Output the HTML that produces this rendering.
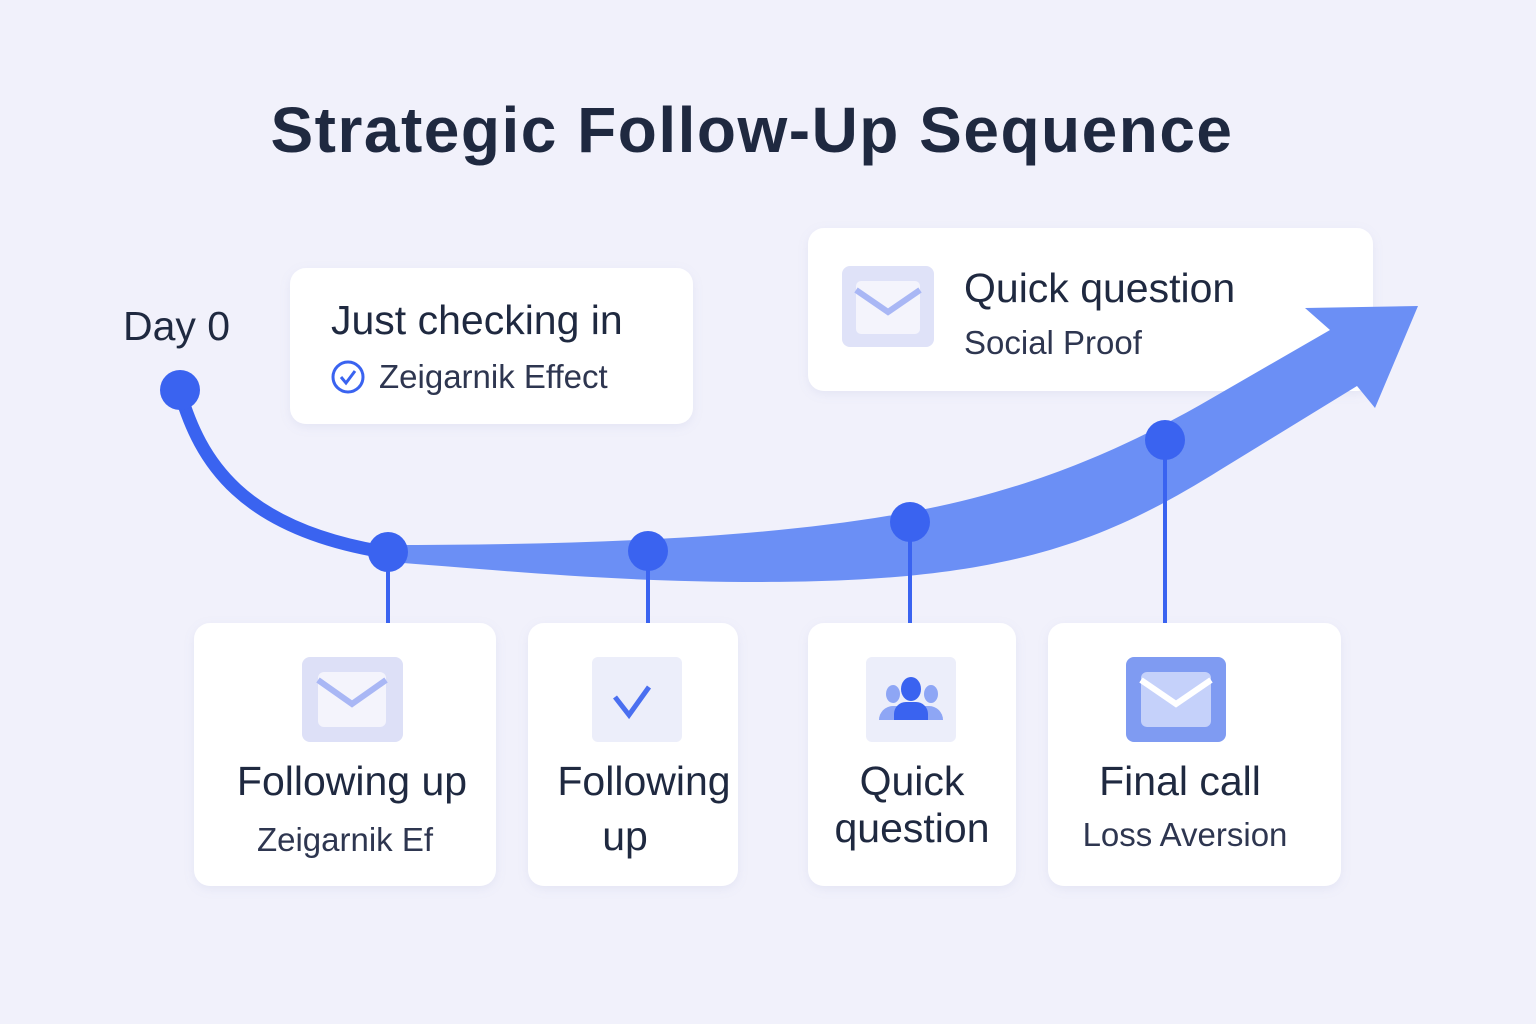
<!DOCTYPE html>
<html><head><style>
body{margin:0;background:#f1f1fb;}
svg{display:block;font-family:"Liberation Sans",sans-serif;}
</style></head><body>
<svg width="1536" height="1024" viewBox="0 0 1536 1024">
<defs><filter id="sh" x="-10%" y="-10%" width="120%" height="130%"><feDropShadow dx="0" dy="3" stdDeviation="5" flood-color="#8088c0" flood-opacity="0.12"/></filter></defs>
<rect width="1536" height="1024" fill="#f1f1fb"/>
<text x="752" y="152" text-anchor="middle" font-size="64" font-weight="bold" letter-spacing="1.5" fill="#1f2940">Strategic Follow-Up Sequence</text>
<text x="123" y="340" font-size="41" fill="#1f2940">Day 0</text>
<g filter="url(#sh)" fill="#fff">
<rect x="290" y="268" width="403" height="156" rx="16"/>
<rect x="808" y="228" width="565" height="163" rx="16"/>
<rect x="194" y="623" width="302" height="263" rx="16"/>
<rect x="528" y="623" width="210" height="263" rx="16"/>
<rect x="808" y="623" width="208" height="263" rx="16"/>
<rect x="1048" y="623" width="293" height="263" rx="16"/>
</g>
<path d="M388,545 C560,545 760,540 910,512 C1030,490 1120,450 1200,405 L1330,330 L1305,308 L1418,306 L1375,408 L1357,386 L1220,470 C1100,545 1000,582 760,582 C600,582 480,568 388,562 Z" fill="#6b8ff5"/>
<path d="M180,392 C200,460 240,530 390,553" fill="none" stroke="#3a63f0" stroke-width="13" stroke-linecap="round"/>
<g stroke="#3a63f0" stroke-width="4">
<line x1="388" y1="552" x2="388" y2="623"/><line x1="648" y1="551" x2="648" y2="623"/><line x1="910" y1="522" x2="910" y2="623"/><line x1="1165" y1="440" x2="1165" y2="623"/>
</g>
<g fill="#3a63f0"><circle cx="180" cy="390" r="20"/><circle cx="388" cy="552" r="20"/><circle cx="648" cy="551" r="20"/><circle cx="910" cy="522" r="20"/><circle cx="1165" cy="440" r="20"/></g>
<text x="331" y="334" font-size="41" fill="#1f2940">Just checking in</text>
<circle cx="348" cy="377" r="15" fill="none" stroke="#3a63f0" stroke-width="3"/>
<path d="M341,377 l5,6 l9,-12" fill="none" stroke="#3a63f0" stroke-width="3"/>
<text x="379" y="388" font-size="33" fill="#2e3650">Zeigarnik Effect</text>
<rect x="842" y="266" width="92" height="81" rx="8" fill="#dfe2f8"/>
<rect x="856" y="281" width="64" height="53" rx="5" fill="#f4f4fc"/>
<path d="M856,290 l32,22 l32,-22" fill="none" stroke="#a9b7f5" stroke-width="6"/>
<text x="964" y="302" font-size="41" fill="#1f2940">Quick question</text>
<text x="964" y="354" font-size="33" fill="#2e3650">Social Proof</text>
<rect x="302" y="657" width="101" height="85" rx="8" fill="#dde0f7"/>
<rect x="318" y="672" width="68" height="55" rx="6" fill="#f4f4fc"/>
<path d="M318,680 l34,24 l34,-24" fill="none" stroke="#a9b7f5" stroke-width="6"/>
<rect x="592" y="657" width="90" height="85" rx="6" fill="#eceefa"/>
<path d="M615,697 l14,18 l20,-28" fill="none" stroke="#4a6ff0" stroke-width="5"/>
<rect x="866" y="657" width="90" height="85" rx="6" fill="#eceefa"/>
<g fill="#8ea6f5"><ellipse cx="893" cy="694" rx="7" ry="9"/><ellipse cx="931" cy="694" rx="7" ry="9"/><path d="M879,720 a14,14 0 0 1 14,-14 l4,0 l0,14 z"/><path d="M943,720 a14,14 0 0 0 -14,-14 l-4,0 l0,14 z"/></g>
<g fill="#3a63f0"><ellipse cx="911" cy="689" rx="10" ry="12"/><path d="M894,720 l0,-6 a12,12 0 0 1 12,-12 l10,0 a12,12 0 0 1 12,12 l0,6 z"/></g>
<rect x="1126" y="657" width="100" height="85" rx="8" fill="#7f9bf2"/>
<rect x="1141" y="672" width="70" height="55" rx="6" fill="#c5d1fa"/>
<path d="M1141,680 l35,24 l35,-24" fill="none" stroke="#fff" stroke-width="6"/>
<g font-size="41" fill="#1f2940" text-anchor="middle">
<text x="352" y="795">Following up</text>
<text x="644" y="795">Following</text><text x="625" y="850">up</text>
<text x="912" y="795">Quick</text><text x="912" y="842">question</text>
<text x="1180" y="795">Final call</text>
</g>
<g font-size="33" fill="#2e3650" text-anchor="middle">
<text x="345" y="851">Zeigarnik Ef</text>
<text x="1185" y="846">Loss Aversion</text>
</g>
</svg>
</body></html>
